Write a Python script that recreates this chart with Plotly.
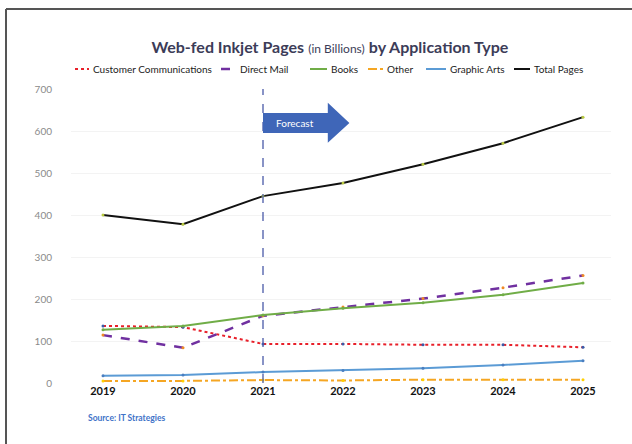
import plotly.graph_objects as go

years = [2019, 2020, 2021, 2022, 2023, 2024, 2025]

customer_communications = [136, 133, 93, 93, 91, 91, 85]
direct_mail = [114, 84, 160, 181, 201, 227, 256]
books = [127, 136, 162, 178, 191, 210, 238]
other = [5, 5, 7, 6, 8, 8, 8]
graphic_arts = [17, 19, 26, 30, 35, 43, 53]
total_pages = [400, 378, 445, 476, 521, 571, 633]

y_ticks = [0, 100, 200, 300, 400, 500, 600, 700]
forecast_start = 2021

series = [
    ("Customer Communications", customer_communications, "#E8202A", "dot", 2, "#3A5BA8"),
    ("Direct Mail", direct_mail, "#7030A0", "dash", 2.5, "#F08A24"),
    ("Books", books, "#70AD47", "solid", 2, "#70AD47"),
    ("Other", other, "#F5A623", "dashdot", 2, "#FFD000"),
    ("Graphic Arts", graphic_arts, "#5B9BD5", "solid", 2, "#4A7EC0"),
    ("Total Pages", total_pages, "#111111", "solid", 2, "#B8C940"),
]

# plot-area geometry (pixels) used to place the legend row in paper units
PLOT_L, PLOT_W, PLOT_B, PLOT_H = 71, 540, 383, 294


def px_x(px):
    return (px - PLOT_L) / PLOT_W


def px_y(py):
    return (PLOT_B - py) / PLOT_H


fig = go.Figure()
for name, vals, color, dash, width, mcolor in series:
    fig.add_trace(go.Scatter(
        x=years, y=vals, name=name, mode="lines+markers",
        line=dict(color=color, dash=dash, width=width),
        marker=dict(size=3, color=mcolor),
        showlegend=False,
    ))

# legend row: a short line sample followed by the series name
legend_x = [75, 221, 310, 368, 426, 514]
legend_sample_w = [14, 15, 17, 15, 20, 16]
legend_y = px_y(69)
for (name, _, color, dash, width, _), lx, sw in zip(series, legend_x, legend_sample_w):
    fig.add_shape(type="line", xref="paper", yref="paper",
                  x0=px_x(lx), x1=px_x(lx + sw), y0=legend_y, y1=legend_y,
                  line=dict(color=color, dash=dash, width=width))
    fig.add_annotation(x=px_x(lx + sw + 2), y=legend_y, xref="paper", yref="paper",
                       xanchor="left", yanchor="middle", text=name, showarrow=False,
                       font=dict(family="Lato", size=10, color="#222222"))

# forecast divider
fig.add_shape(type="line", xref="x", yref="paper",
              x0=forecast_start, x1=forecast_start, y0=0, y1=1,
              line=dict(color="#4A5AA8", width=1.3, dash="dash"))

# forecast arrow
x0 = forecast_start
fig.add_shape(
    type="path", xref="x", yref="y",
    path=(f"M {x0},643 L {x0 + 0.81},643 L {x0 + 0.81},667 "
          f"L {x0 + 1.08},619 L {x0 + 0.81},572 L {x0 + 0.81},595 "
          f"L {x0},595 Z"),
    fillcolor="#3F66B8", line=dict(width=0),
)
fig.add_annotation(x=x0 + 0.4, y=619, xref="x", yref="y", text="Forecast",
                   showarrow=False,
                   font=dict(family="Lato", size=10, color="white"))

# frame lines along top and left edges
fig.add_shape(type="line", xref="paper", yref="paper",
              x0=px_x(6), x1=px_x(640), y0=px_y(9), y1=px_y(9),
              line=dict(color="#555555", width=2))
fig.add_shape(type="line", xref="paper", yref="paper",
              x0=px_x(6), x1=px_x(6), y0=px_y(9), y1=px_y(450),
              line=dict(color="#555555", width=2))

fig.add_annotation(x=px_x(86), y=px_y(418), xref="paper", yref="paper",
                   xanchor="left", yanchor="middle",
                   text="<b>Source: IT Strategies</b>", showarrow=False,
                   font=dict(family="Lato", size=8.5, color="#3F73C8"))

fig.update_layout(
    width=632, height=444,
    margin=dict(l=71, r=21, t=89, b=61),
    paper_bgcolor="white", plot_bgcolor="white",
    title=dict(
        text="<b>Web-fed Inkjet Pages</b> <span style='font-size:12px'>(in Billions)</span> <b>by Application Type</b>",
        x=0.522, xref="container", xanchor="center", y=0.894, yanchor="middle",
        font=dict(family="Lato", size=16, color="#3C3C58"),
    ),
    showlegend=False,
)
fig.update_xaxes(
    range=[2018.6, 2025.35], tickvals=years, ticktext=[str(y) for y in years],
    showgrid=False, zeroline=False, showline=False,
    tickfont=dict(family="Lato", size=11, color="#111111", weight="bold"),
)
fig.update_yaxes(
    range=[0, 700], tickvals=y_ticks, showgrid=True, gridcolor="#F3F3F3",
    zeroline=False, showline=False, ticklabelstandoff=18,
    tickfont=dict(family="Lato", size=10, color="#8A8A8A"),
)

fig.write_html("out.html")
